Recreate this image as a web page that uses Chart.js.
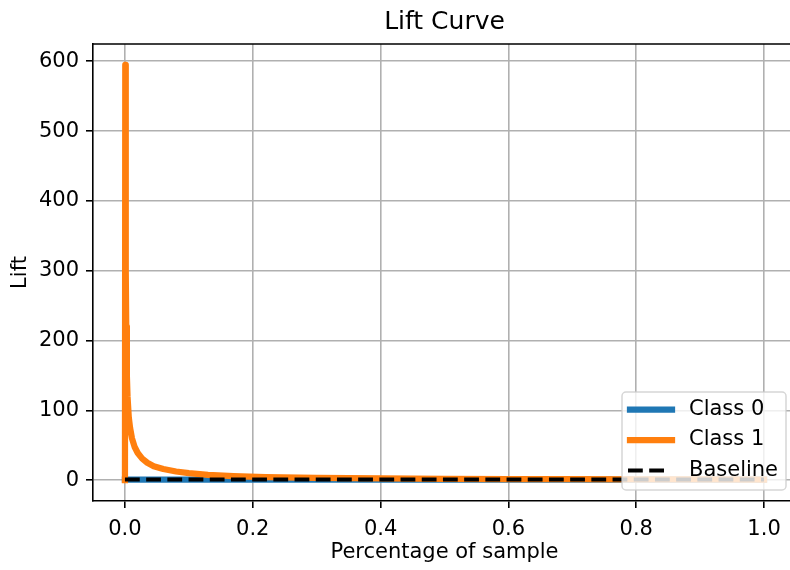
<!DOCTYPE html>
<html>
<head>
<meta charset="utf-8">
<title>Lift Curve</title>
<script src="https://cdn.jsdelivr.net/npm/chart.js@4.4.1/dist/chart.umd.min.js"></script>
<style>
  html, body { margin: 0; padding: 0; overflow: hidden; background: #fff; }
  canvas { display: block; }
</style>
</head>
<body>
<canvas id="lift-chart" width="796" height="570"></canvas>
<script>
// data
const class0X = [0, 0.1, 0.2, 0.3, 0.4, 0.5, 0.6, 0.7, 0.8, 0.9, 1.0];
const class0Lift = [1, 1, 1, 1, 1, 1, 1, 1, 1, 1, 1];

const class1X = [0, 0.0005, 0.001, 0.0015, 0.002, 0.003, 0.004, 0.006, 0.008, 0.011, 0.015, 0.02, 0.027, 0.035, 0.045, 0.06, 0.08, 0.1, 0.13, 0.17, 0.22, 0.3, 0.4, 0.5, 0.6, 0.7, 0.8, 0.9, 1.0];
const class1Lift = [0, 595, 420, 300, 220, 150, 120, 90, 75, 60, 48, 39, 31, 25, 20, 16, 12.5, 10.2, 7.8, 6, 4.6, 3.35, 2.5, 2, 1.67, 1.43, 1.25, 1.11, 1];

const baselineX = [0, 1];
const baselineLift = [1, 1];

const xTicks = [0, 0.2, 0.4, 0.6, 0.8, 1.0];
const yTicks = [0, 100, 200, 300, 400, 500, 600];

const seriesNames = ["Class 0", "Class 1", "Baseline"];
const seriesColors = ["#1f77b4", "#ff7f0e", "#000000"];

const FONT = "DejaVu Sans";
Chart.defaults.font.family = FONT;
Chart.defaults.color = "#000";

function toPoints(xs, ys) {
    return xs.map((x, i) => ({ x: x, y: ys[i] }));
}

// title, top/right spines and the legend box inside the axes
const extras = {
    id: "extras",
    afterDraw(chart) {
        const { ctx, chartArea: a } = chart;
        ctx.save();

        ctx.strokeStyle = "#000";
        ctx.lineWidth = 1.6;
        ctx.beginPath();
        ctx.moveTo(a.left, a.top);
        ctx.lineTo(a.right, a.top);
        ctx.lineTo(a.right, a.bottom);
        ctx.stroke();

        ctx.fillStyle = "#000";
        ctx.font = "25px '" + FONT + "'";
        ctx.textAlign = "center";
        ctx.textBaseline = "middle";
        ctx.fillText("Lift Curve", (a.left + a.right) / 2, 22);

        // legend (lower right)
        const bx = 622, by = 392, bw = 164, bh = 98;
        ctx.beginPath();
        ctx.roundRect(bx, by, bw, bh, 4);
        ctx.fillStyle = "rgba(255,255,255,0.8)";
        ctx.fill();
        ctx.strokeStyle = "rgba(204,204,204,0.8)";
        ctx.lineWidth = 1.5;
        ctx.stroke();

        const rows = [409.5, 440, 470.5];
        rows.forEach((ry, i) => {
            ctx.strokeStyle = seriesColors[i];
            if (i === 2) {
                ctx.lineWidth = 4;
                ctx.lineCap = "butt";
                ctx.setLineDash([14.8, 6.4]);
            } else {
                ctx.lineWidth = 6.25;
                ctx.lineCap = "square";
                ctx.setLineDash([]);
            }
            ctx.beginPath();
            ctx.moveTo(i === 2 ? 628 : 630, ry);
            ctx.lineTo(i === 2 ? 670 : 672, ry);
            ctx.stroke();
            ctx.setLineDash([]);

            ctx.fillStyle = "#000";
            ctx.font = "21px '" + FONT + "'";
            ctx.textAlign = "left";
            ctx.textBaseline = "middle";
            ctx.fillText(seriesNames[i], 689, ry);
        });

        ctx.restore();
    }
};

const ctx = document.getElementById("lift-chart").getContext("2d");

const lift = new Chart(ctx, {
    type: "line",
    data: {
        datasets: [
            {
                label: seriesNames[0],
                data: toPoints(class0X, class0Lift),
                borderColor: seriesColors[0],
                borderWidth: 6.25,
                borderCapStyle: "square",
                borderJoinStyle: "round",
                order: 3
            },
            {
                label: seriesNames[1],
                data: toPoints(class1X, class1Lift),
                borderColor: seriesColors[1],
                borderWidth: 6.25,
                borderCapStyle: "square",
                borderJoinStyle: "round",
                order: 2
            },
            {
                label: seriesNames[2],
                data: toPoints(baselineX, baselineLift),
                borderColor: seriesColors[2],
                borderWidth: 4,
                borderDash: [14.8, 6.4],
                borderCapStyle: "butt",
                order: 1
            }
        ]
    },
    options: {
        responsive: false,
        animation: false,
        events: [],
        layout: { padding: { top: 44, left: 0, right: 0, bottom: 0 } },
        elements: {
            point: { radius: 0 },
            line: { tension: 0, fill: false }
        },
        plugins: {
            legend: { display: false },
            title: { display: false },
            tooltip: { enabled: false }
        },
        scales: {
            x: {
                type: "linear",
                min: -0.05,
                max: 1.05,
                afterBuildTicks: (scale) => { scale.ticks = xTicks.map(v => ({ value: v })); },
                afterFit: (scale) => { scale.height = 69; },
                grid: { color: "#b0b0b0", lineWidth: 1.6, tickColor: "#000", tickWidth: 1.6, tickLength: 7 },
                border: { color: "#000", width: 1.6 },
                ticks: {
                    font: { size: 21 },
                    padding: 9,
                    maxRotation: 0,
                    callback: (v) => Number(v).toFixed(1)
                },
                title: {
                    display: true,
                    text: "Percentage of sample",
                    font: { size: 21 },
                    padding: { top: 0, bottom: 5 }
                }
            },
            y: {
                type: "linear",
                min: -29.75,
                max: 624.75,
                afterBuildTicks: (scale) => { scale.ticks = yTicks.map(v => ({ value: v })); },
                afterFit: (scale) => { scale.width = 93; },
                grid: { color: "#b0b0b0", lineWidth: 1.6, tickColor: "#000", tickWidth: 1.6, tickLength: 7 },
                border: { color: "#000", width: 1.6 },
                ticks: {
                    font: { size: 21 },
                    padding: 7,
                    callback: (v) => String(v)
                },
                title: {
                    display: true,
                    text: "Lift",
                    font: { size: 21 },
                    padding: { top: 8, bottom: 0 }
                }
            }
        }
    },
    plugins: [extras]
});
</script>
</body>
</html>
